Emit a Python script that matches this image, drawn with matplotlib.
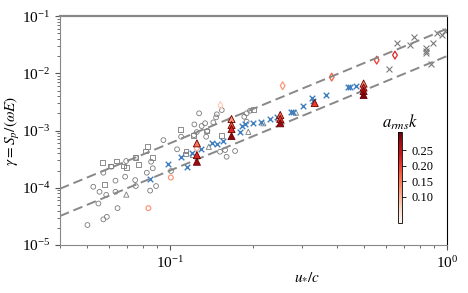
import matplotlib.pyplot as plt
import matplotlib.colors as mcolors
import numpy as np

plt.rcParams['font.family'] = ['Liberation Serif', 'DejaVu Serif']
plt.rcParams['mathtext.fontset'] = 'stix'

# grey circles
circ_x = [0.0503, 0.0528, 0.0556, 0.0551, 0.0588, 0.0574, 0.0591, 0.0635, 0.0635, 0.0646,
          0.0688, 0.0748, 0.0752, 0.0824, 0.0847, 0.0866, 0.089, 0.0574, 0.0614, 0.1224,
          0.0946, 0.1096, 0.106, 0.0854, 0.0752, 0.0694, 0.1008, 0.1273, 0.1475, 0.1537,
          0.1466, 0.1338, 0.1433, 0.130, 0.122, 0.1364, 0.1248, 0.135, 0.1854, 0.189,
          0.1944, 0.189, 0.158, 0.1515, 0.160, 0.1717, 0.165]
circ_y = [2.23e-5, 1.04e-4, 8.5e-5, 5.3e-5, 7.5e-5, 2.8e-5, 3.1e-5, 1.33e-4, 8.5e-5, 4.4e-5,
          1.56e-4, 1.36e-4, 1.07e-4, 1.83e-4, 8.9e-5, 2.19e-4, 1.07e-4, 1.83e-4, 2.33e-4, 1.28e-3,
          6.8e-4, 7.8e-4, 4.7e-4, 2.85e-4, 3.35e-4, 2.93e-4, 1.96e-4, 2.0e-3, 1.92e-3, 2.28e-3,
          1.70e-3, 1.34e-3, 1.39e-3, 1.2e-3, 8.3e-4, 9.9e-4, 9.4e-4, 7.8e-4, 1.74e-3, 2.0e-3,
          2.22e-3, 1.43e-3, 4.56e-4, 4.26e-4, 3.48e-4, 4.39e-4, 1.52e-3]

# grey squares
sq_x = [0.057, 0.0641, 0.0678, 0.0611, 0.058, 0.0748, 0.0769, 0.0813, 0.0828, 0.0863,
        0.109, 0.1142, 0.1135, 0.0698, 0.1214, 0.1357, 0.1537, 0.1998]
sq_y = [2.76e-4, 2.93e-4, 2.4e-4, 2.4e-4, 1.14e-4, 3.4e-4, 2.53e-4, 4.39e-4, 5.2e-4, 3.4e-4,
        1.05e-3, 4.39e-4, 3.9e-4, 2.28e-4, 8.3e-4, 9.8e-4, 8.3e-4, 2.33e-3]

# grey open triangles
tri_x = [0.0695, 0.138, 0.1917, 0.2172, 0.285, 0.246, 0.121]
tri_y = [7.6e-5, 5.2e-4, 9.5e-4, 1.34e-3, 2.05e-3, 1.63e-3, 3.73e-4]

# grey crosses
gx_x = [0.619, 0.658, 0.735, 0.762, 0.843, 0.843, 0.843, 0.89, 0.876, 0.924, 0.963, 0.983]
gx_y = [1.17e-2, 3.42e-2, 3.11e-2, 4.35e-2, 2.79e-2, 2.49e-2, 2.23e-2, 3.33e-2, 1.44e-2,
        4.99e-2, 4.66e-2, 5.47e-2]

# blue crosses
bx_x = [0.0844, 0.0981, 0.1093, 0.1198, 0.1149, 0.1294, 0.1414, 0.1475, 0.1557, 0.179,
        0.1824, 0.1866, 0.1998, 0.2131, 0.2296, 0.2427, 0.2735, 0.2787, 0.3013, 0.3248,
        0.3275, 0.3658, 0.439, 0.448, 0.469]
bx_y = [1.41e-4, 2.6e-4, 3.4e-4, 4.0e-4, 2.28e-4, 4.7e-4, 5.97e-4, 5.74e-4, 6.64e-4, 9.5e-4,
        1.2e-3, 1.28e-3, 1.34e-3, 1.43e-3, 1.59e-3, 1.74e-3, 2.08e-3, 2.13e-3, 2.68e-3, 3.74e-3,
        3.27e-3, 4.17e-3, 5.75e-3, 5.75e-3, 6.1e-3]

# filled triangles coloured by a_rms k
ft_x = [0.125, 0.125, 0.125, 0.1667, 0.1667, 0.1667, 0.1667, 0.25, 0.25, 0.25, 0.333,
        0.5, 0.5, 0.5, 0.5]
ft_y = [5.97e-4, 3.73e-4, 2.85e-4, 1.59e-3, 1.25e-3, 1.06e-3, 8.0e-4, 1.87e-3, 1.59e-3,
        1.34e-3, 3.02e-3, 6.62e-3, 5.64e-3, 4.9e-3, 4.17e-3]
ft_c = [0.15, 0.22, 0.28, 0.12, 0.18, 0.22, 0.29, 0.15, 0.2, 0.28, 0.2, 0.12, 0.2, 0.26, 0.3]

# open diamonds coloured by a_rms k
dm_x = [0.152, 0.255, 0.3835, 0.5575, 0.649]
dm_y = [2.74e-3, 6.07e-3, 8.6e-3, 1.70e-2, 2.08e-2]
dm_c = [0.07, 0.12, 0.17, 0.2, 0.22]

# open circles coloured by a_rms k
oc_x = [0.0835, 0.1006, 0.125]
oc_y = [4.4e-5, 1.51e-4, 4.94e-4]
oc_c = [0.12, 0.12, 0.1]

fig = plt.figure(figsize=(4.68, 2.93), dpi=100)
ax = fig.add_axes([0.128, 0.164, 0.827, 0.781])

grey = '#7a7a7a'
blue = '#3f7fc0'
cmap = plt.get_cmap('Reds')
norm = mcolors.Normalize(vmin=0.015, vmax=0.31)

ax.scatter(circ_x, circ_y, s=12, marker='o', facecolors='none', edgecolors=grey, linewidths=0.6)
ax.scatter(sq_x, sq_y, s=12, marker='s', facecolors='none', edgecolors=grey, linewidths=0.6)
ax.scatter(tri_x, tri_y, s=14, marker='^', facecolors='none', edgecolors=grey, linewidths=0.6)
ax.scatter(gx_x, gx_y, s=18, marker='x', color=grey, linewidths=0.8)
ax.scatter(bx_x, bx_y, s=16, marker='x', color=blue, linewidths=1.0)
ax.scatter(dm_x, dm_y, s=16, marker='d', facecolors='none',
           edgecolors=cmap(norm(np.array(dm_c))), linewidths=0.9)
ax.scatter(oc_x, oc_y, s=12, marker='o', facecolors='none',
           edgecolors=cmap(norm(np.array(oc_c))), linewidths=0.9)
sc = ax.scatter(ft_x, ft_y, s=26, marker='^', c=ft_c, cmap=cmap, norm=norm,
                edgecolors='#6b0000', linewidths=0.6, zorder=3)

# fitted scalings gamma ~ (u*/c)^2
xl = np.array([0.04, 1.0])
ax.plot(xl, 0.06 * xl ** 2, '--', color='#888888', lw=1.4, dashes=(5, 2.5))
ax.plot(xl, 0.02 * xl ** 2, '--', color='#888888', lw=1.4, dashes=(5, 2.5))

ax.set_xscale('log')
ax.set_yscale('log')
ax.set_xlim(0.04, 1)
ax.set_ylim(1e-5, 1e-1)
ax.set_xlabel(r'$u_{*}/c$', fontsize=11)
ax.xaxis.set_label_coords(0.64, -0.11)
ax.set_ylabel(r'$\gamma = S_p/(\omega E)$', fontsize=11, labelpad=0)
ax.tick_params(labelsize=11)

for side in ['top', 'left', 'bottom']:
    ax.spines[side].set_color('#888888')
ax.spines['top'].set_linewidth(1.6)
ax.spines['right'].set_color('black')
ax.spines['right'].set_linewidth(0.8)
ax.tick_params(which='both', color='#555555')

cax = fig.add_axes([0.850, 0.24, 0.0098, 0.31])
cb = fig.colorbar(sc, cax=cax, ticks=[0.10, 0.15, 0.20, 0.25])
cb.ax.yaxis.set_major_formatter(plt.FormatStrFormatter('%.2f'))
cb.ax.tick_params(labelsize=9, length=3, width=0.6)
cb.outline.set_linewidth(0.6)
cax.set_title(r'$a_{rms}k$', fontsize=12, pad=3)

fig.savefig('out.png', dpi=100)
